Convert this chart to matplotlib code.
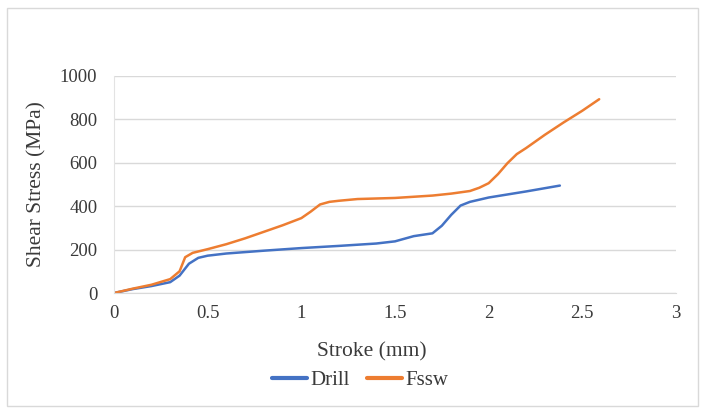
import matplotlib
matplotlib.use("Agg")
import matplotlib.pyplot as plt
from matplotlib.patches import Rectangle

drill_x = [0, 0.1, 0.2, 0.3, 0.35, 0.4, 0.45, 0.5, 0.6, 0.8, 1.0, 1.2, 1.4, 1.5, 1.55, 1.6, 1.7, 1.75, 1.8, 1.85, 1.9, 2.0, 2.2, 2.38]
drill_y = [0, 18, 32, 50, 80, 135, 162, 172, 182, 195, 207, 217, 228, 238, 250, 262, 275, 310, 360, 403, 420, 440, 468, 495]
fssw_x = [0, 0.1, 0.2, 0.3, 0.35, 0.38, 0.42, 0.5, 0.6, 0.7, 0.8, 0.9, 1.0, 1.05, 1.1, 1.15, 1.2, 1.3, 1.5, 1.7, 1.8, 1.9, 1.95, 2.0, 2.05, 2.1, 2.15, 2.2, 2.3, 2.4, 2.5, 2.59]
fssw_y = [0, 20, 38, 64, 100, 165, 185, 202, 225, 252, 282, 312, 345, 375, 408, 420, 425, 433, 438, 449, 458, 470, 485, 506, 548, 598, 640, 668, 729, 786, 840, 893]

xticks = [0, 0.5, 1, 1.5, 2, 2.5, 3]
xtick_labels = ["0", "0.5", "1", "1.5", "2", "2.5", "3"]
yticks = [0, 200, 400, 600, 800, 1000]

plt.rcParams['font.family'] = ['Liberation Serif', 'DejaVu Serif']
txt = '#3a3a3a'

fig = plt.figure(figsize=(7.04, 4.08), dpi=100)
fig.patches.append(Rectangle((7.5/704, 2/408), 690.5/704, 398.5/408, transform=fig.transFigure,
                             fill=False, edgecolor='#d9d9d9', linewidth=1))
ax = fig.add_axes([114/704, 115/408, 562/704, 217/408])

ax.plot(drill_x, drill_y, color='#4472C4', lw=1.8, label='Drill', solid_capstyle='round')
ax.plot(fssw_x, fssw_y, color='#ED7D31', lw=1.8, label='Fssw', solid_capstyle='round')

ax.set_xlim(0, 3)
ax.set_ylim(0, 1000)
ax.set_xticks(xticks)
ax.set_xticklabels(xtick_labels)
ax.set_yticks(yticks)
ax.grid(axis='y', color='#d9d9d9', lw=1)
ax.set_axisbelow(True)
for s in ['top', 'right']:
    ax.spines[s].set_visible(False)
ax.spines['bottom'].set_color('#d9d9d9')
ax.spines['left'].set_color('#e3e3e3')
ax.tick_params(length=0, labelsize=13.5, colors=txt)
ax.tick_params(axis='x', pad=9)
ax.tick_params(axis='y', pad=12)
ax.set_xlabel('Stroke (mm)', fontsize=15.5, color=txt, va='center')
ax.set_ylabel('Shear Stress (MPa)', fontsize=15.5, color=txt, va='center')
ax.xaxis.set_label_coords((372 - 114) / 562, (293 - 352) / 217)
ax.yaxis.set_label_coords((37 - 114) / 562, (293 - 184) / 217)
leg = ax.legend(loc='center', bbox_to_anchor=((360 - 114) / 562, (293 - 380) / 217), ncol=2,
                frameon=False, fontsize=15, handlelength=1.7, handletextpad=0.15,
                columnspacing=0.8, labelcolor=txt, borderpad=0, borderaxespad=0)
for h in leg.get_lines():
    h.set_linewidth(3)
fig.savefig('out.png', dpi=100)
